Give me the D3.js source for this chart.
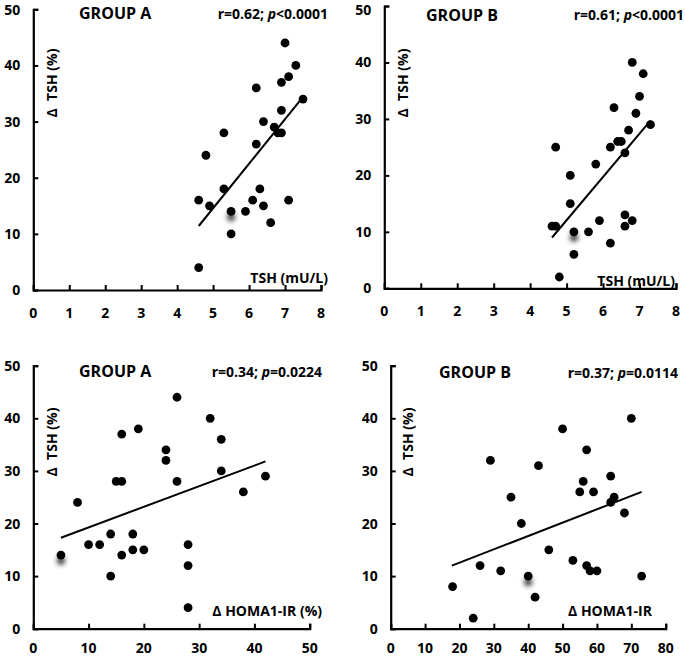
<!DOCTYPE html>
<html>
<head>
<meta charset="utf-8">
<script src="https://cdn.jsdelivr.net/npm/d3@7"></script>
<style>
  body { margin: 0; background: #fff; }
  text { font-family: "Open Sans", Lato, sans-serif; font-weight: bold; fill: #000; }
</style>
</head>
<body>
<div id="chart"></div>
<script>
// Delta TSH (%) vs baseline TSH and vs Delta HOMA1-IR, groups A and B

var svgWidth = 685;
var svgHeight = 657;

// top row: TSH (mU/L) on x
var tshA_x = [7.0, 7.3, 7.1, 6.9, 6.2, 7.5, 6.9, 6.4, 6.7, 6.8, 6.9, 5.3, 6.2, 4.8, 5.3, 6.3, 4.6, 6.1, 7.1, 4.9, 6.4, 5.5, 5.9, 6.6, 5.5, 4.6];
var tshA_y = [44, 40, 38, 37, 36, 34, 32, 30, 29, 28, 28, 28, 26, 24, 18, 18, 16, 16, 16, 15, 15, 14, 14, 12, 10, 4];

var tshB_x = [6.8, 7.1, 7.0, 6.3, 6.9, 7.3, 6.7, 6.4, 6.5, 6.2, 4.7, 6.6, 5.8, 5.1, 5.1, 6.6, 5.9, 6.8, 6.6, 4.6, 4.7, 5.2, 5.6, 6.2, 5.2, 4.8];
var tshB_y = [40, 38, 34, 32, 31, 29, 28, 26, 26, 25, 25, 24, 22, 20, 15, 13, 12, 12, 11, 11, 11, 10, 10, 8, 6, 2];

// bottom row: Delta HOMA1-IR on x
var homaA_x = [26, 32, 19, 16, 34, 24, 24, 34, 42, 15, 16, 26, 38, 8, 14, 18, 10, 12, 28, 18, 20, 5, 16, 28, 14, 28];
var homaA_y = [44, 40, 38, 37, 36, 34, 32, 30, 29, 28, 28, 28, 26, 24, 18, 18, 16, 16, 16, 15, 15, 14, 14, 12, 10, 4];

var homaB_x = [70, 50, 57, 29, 43, 64, 56, 55, 59, 35, 65, 64, 68, 38, 46, 53, 26, 57, 32, 58, 60, 40, 73, 18, 42, 24];
var homaB_y = [40, 38, 34, 32, 31, 29, 28, 26, 26, 25, 25, 24, 22, 20, 15, 13, 12, 12, 11, 11, 11, 10, 10, 8, 6, 2];

// fitted lines as drawn: [x0, y0, x1, y1]
var fitTshA = [4.6, 11.4, 7.45, 34];
var fitTshB = [4.6, 9.0, 7.3, 29.7];
var fitHomaA = [5, 17.3, 42, 31.8];
var fitHomaB = [17.8, 12.0, 73, 26.0];

// blurred smudges in the scan
var smudge = [[5.5, 13], [5.2, 9], [5, 12.9], [40, 8.9]];

var titles = ["GROUP A", "GROUP B", "GROUP A", "GROUP B"];
var stats = [["r=0.62; ", "p", "<0.0001"], ["r=0.61; ", "p", "<0.0001"],
             ["r=0.34; ", "p", "=0.0224"], ["r=0.37; ", "p", "=0.0114"]];
var xLabels = ["TSH (mU/L)", "TSH (mU/L)", "\u0394 HOMA1-IR (%)", "\u0394 HOMA1-IR"];
var yLabel = "\u0394  TSH (%)";
var xMax = [8, 8, 50, 80];
var xTickStep = [1, 1, 10, 10];

var panels = [
  {xs: tshA_x, ys: tshA_y, fit: fitTshA, x0: 33.3, x1: 321, y0: 290, y1: 9.3,
   titleX: 79, titleY: 19, statX: 328, statY: 19, ylx: 52, yly: 83, xlx: 328, xly: 283},
  {xs: tshB_x, ys: tshB_y, fit: fitTshB, x0: 384.3, x1: 676, y0: 288.3, y1: 6,
   titleX: 426, titleY: 21, statX: 684, statY: 20, ylx: 403, yly: 83, xlx: 675, xly: 286},
  {xs: homaA_x, ys: homaA_y, fit: fitHomaA, x0: 33.3, x1: 309.7, y0: 628.7, y1: 365.7,
   titleX: 79, titleY: 377, statX: 322, statY: 377, ylx: 52, yly: 442, xlx: 322, xly: 616},
  {xs: homaB_x, ys: homaB_y, fit: fitHomaB, x0: 390.7, x1: 665.7, y0: 628.7, y1: 365.7,
   titleX: 439, titleY: 378, statX: 678, statY: 378, ylx: 408, yly: 442, xlx: 652, xly: 616}
];

var svg = d3.select("#chart")
  .append("svg")
  .attr("width", svgWidth)
  .attr("height", svgHeight);

svg.append("defs").append("filter")
  .attr("id", "blur")
  .attr("x", "-100%").attr("y", "-100%")
  .attr("width", "300%").attr("height", "300%")
  .append("feGaussianBlur")
  .attr("stdDeviation", 2.5);

panels.forEach(function(p, i) {
  var x = d3.scaleLinear().domain([0, xMax[i]]).range([p.x0, p.x1]);
  var y = d3.scaleLinear().domain([0, 50]).range([p.y0, p.y1]);
  var g = svg.append("g");

  // x axis, ticks pointing up into the plot
  g.append("g")
    .attr("transform", `translate(0,${p.y0})`)
    .call(d3.axisTop(x).tickValues(d3.range(0, xMax[i] + 1, xTickStep[i])).tickSize(5).tickSizeOuter(5).tickFormat(""));

  g.append("g")
    .attr("transform", `translate(${p.x0},0)`)
    .call(d3.axisRight(y).tickValues([0, 10, 20, 30, 40, 50]).tickSize(5).tickSizeOuter(5).tickFormat(""));

  g.selectAll("path.domain").attr("stroke", "#000").attr("stroke-width", 2.2);
  g.selectAll(".tick line").attr("stroke", "#000").attr("stroke-width", 2);
  g.selectAll(".tick text").remove();

  // tick labels
  g.selectAll(".xt")
    .data(d3.range(0, xMax[i] + 1, xTickStep[i]))
    .enter().append("text")
    .attr("x", d => x(d))
    .attr("y", Math.min(p.y0 + 28, 653))
    .attr("text-anchor", "middle")
    .style("font-size", "14px")
    .text(d => d);

  g.selectAll(".yt")
    .data([0, 10, 20, 30, 40, 50])
    .enter().append("text")
    .attr("x", p.x0 - 13)
    .attr("y", d => Math.max(y(d) + 5, 15))
    .attr("text-anchor", "end")
    .style("font-size", "14px")
    .text(d => d);

  // smudge
  g.append("circle")
    .attr("cx", x(smudge[i][0]))
    .attr("cy", y(smudge[i][1]))
    .attr("r", 4)
    .attr("fill", "#333")
    .attr("filter", "url(#blur)");

  // points
  g.selectAll("circle.pt")
    .data(p.xs.map((v, j) => [v, p.ys[j]]))
    .enter().append("circle")
    .attr("class", "pt")
    .attr("cx", d => x(d[0]))
    .attr("cy", d => y(d[1]))
    .attr("r", 4.4)
    .attr("fill", "#000");

  // fit line
  g.append("line")
    .attr("x1", x(p.fit[0])).attr("y1", y(p.fit[1]))
    .attr("x2", x(p.fit[2])).attr("y2", y(p.fit[3]))
    .attr("stroke", "#000")
    .attr("stroke-width", 2);

  // labels
  g.append("text")
    .attr("x", p.titleX).attr("y", p.titleY)
    .style("font-size", "16px")
    .text(titles[i]);

  var st = g.append("text")
    .attr("x", p.statX).attr("y", p.statY)
    .attr("text-anchor", "end")
    .style("font-size", "14px");
  st.append("tspan").text(stats[i][0]);
  st.append("tspan").style("font-style", "italic").text(stats[i][1]);
  st.append("tspan").text(stats[i][2]);

  g.append("text")
    .attr("transform", `translate(${p.ylx},${p.yly}) rotate(-90)`)
    .attr("text-anchor", "middle")
    .attr("dy", "0.35em")
    .style("font-size", "14px")
    .style("white-space", "pre")
    .text(yLabel);

  g.append("text")
    .attr("x", p.xlx).attr("y", p.xly)
    .attr("text-anchor", "end")
    .style("font-size", "14px")
    .text(xLabels[i]);
});
</script>
</body>
</html>
